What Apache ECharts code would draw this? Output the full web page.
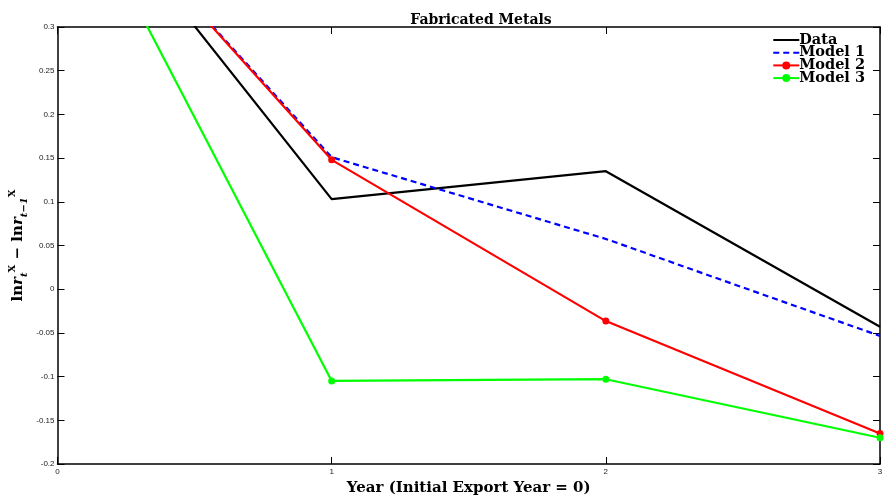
<!DOCTYPE html>
<html><head><meta charset="utf-8">
<script src="https://cdn.jsdelivr.net/npm/echarts@6/dist/echarts.min.js"></script>
<style>html,body{margin:0;padding:0;background:#fff}#c{width:884px;height:501px}</style>
</head><body><div id="c"></div>
<script>
const years = [0, 1, 2, 3];
const dataVals   = [0.499, 0.103, 0.135, -0.043];
const model1Vals = [0.496, 0.151, 0.0575, -0.0535];
const model2Vals = [0.497, 0.148, -0.0365, -0.165];
const model3Vals = [0.498, -0.105, -0.103, -0.170];
const yTicks = { min: -0.2, max: 0.3, step: 0.05 };
const xTicks = { min: 0, max: 3, step: 1 };

const pair = v => years.map((x, i) => [x, v[i]]);
const serif = 'DejaVu Serif';
const chart = echarts.init(document.getElementById('c'));
const axCommon = {
  axisLine: { show: true, onZero: false, lineStyle: { color: '#000', width: 1.5 } },
  axisTick: { show: true, inside: true, length: 7, lineStyle: { color: '#000', width: 1 } },
  splitLine: { show: false }
};
chart.setOption({
  animation: false,
  title: {
    text: 'Fabricated Metals', left: 476, top: 8, textAlign: 'center',
    textStyle: { fontFamily: serif, fontWeight: 'bold', fontSize: 14, color: '#000' }
  },
  grid: { left: 57.5, right: 4, top: 27, bottom: 37, containLabel: false, outerBoundsMode: 'none' },
  legend: {
    orient: 'vertical', right: 14, top: 27.5, itemGap: -2.3, itemWidth: 26, itemHeight: 10,
    data: [
      { name: 'Data', itemStyle: { opacity: 0 } },
      { name: 'Model 1', itemStyle: { opacity: 0 } },
      'Model 2', 'Model 3'
    ],
    textStyle: { fontFamily: serif, fontWeight: 'bold', fontSize: 14.5, lineHeight: 13, color: '#000', padding: [0, 0, 0, -5] }
  },
  xAxis: [
    Object.assign({
      type: 'value', min: xTicks.min, max: xTicks.max, interval: xTicks.step, position: 'bottom',
      axisLabel: { fontFamily: 'Liberation Sans', fontSize: 8, color: '#222', margin: 4 },
      name: 'Year (Initial Export Year = 0)', nameLocation: 'middle', nameGap: 16,
      nameTextStyle: { fontFamily: serif, fontWeight: 'bold', fontSize: 15, color: '#000' }
    }, axCommon),
    Object.assign({
      type: 'value', min: xTicks.min, max: xTicks.max, interval: xTicks.step, position: 'top',
      axisLabel: { show: false }
    }, axCommon)
  ],
  yAxis: [
    Object.assign({
      type: 'value', min: yTicks.min, max: yTicks.max, interval: yTicks.step, position: 'left',
      axisLabel: { fontFamily: 'Liberation Sans', fontSize: 8, color: '#222', margin: 3 },
      name: '{m|ln}{i|r}{sub|t}{sup|X}{m| − ln}{i|r}{sub|t−1}{sup|X}',
      nameLocation: 'middle', nameGap: 28, nameRotate: 90, nameMoveOverlap: false,
      nameTextStyle: {
        color: '#000',
        rich: {
          m: { fontFamily: serif, fontWeight: 'bold', fontSize: 15, lineHeight: 22, color: '#000' },
          i: { fontFamily: serif, fontWeight: 'bold', fontStyle: 'italic', fontSize: 15, lineHeight: 22, color: '#000' },
          sub: { fontFamily: serif, fontWeight: 'bold', fontStyle: 'italic', fontSize: 10, lineHeight: 12, verticalAlign: 'bottom', color: '#000' },
          sup: { fontFamily: serif, fontWeight: 'bold', fontSize: 10, lineHeight: 14, verticalAlign: 'top', color: '#000' }
        }
      }
    }, axCommon),
    Object.assign({
      type: 'value', min: yTicks.min, max: yTicks.max, interval: yTicks.step, position: 'right',
      axisLabel: { show: false }
    }, axCommon)
  ],
  series: [
    { name: 'Data', type: 'line', data: pair(dataVals), symbol: 'none', clip: true,
      lineStyle: { color: '#000', width: 2.2 }, itemStyle: { color: '#000' } },
    { name: 'Model 1', type: 'line', data: pair(model1Vals), symbol: 'none', clip: true,
      lineStyle: { color: '#0000ff', width: 2.2, type: [6, 4] }, itemStyle: { color: '#0000ff' } },
    { name: 'Model 2', type: 'line', data: pair(model2Vals), symbol: 'circle', symbolSize: 7, clip: true,
      lineStyle: { color: '#ff0000', width: 2.2 }, itemStyle: { color: '#ff0000' } },
    { name: 'Model 3', type: 'line', data: pair(model3Vals), symbol: 'circle', symbolSize: 7, clip: true,
      lineStyle: { color: '#00ff00', width: 2.2 }, itemStyle: { color: '#00ff00' } }
  ]
});
</script></body></html>
